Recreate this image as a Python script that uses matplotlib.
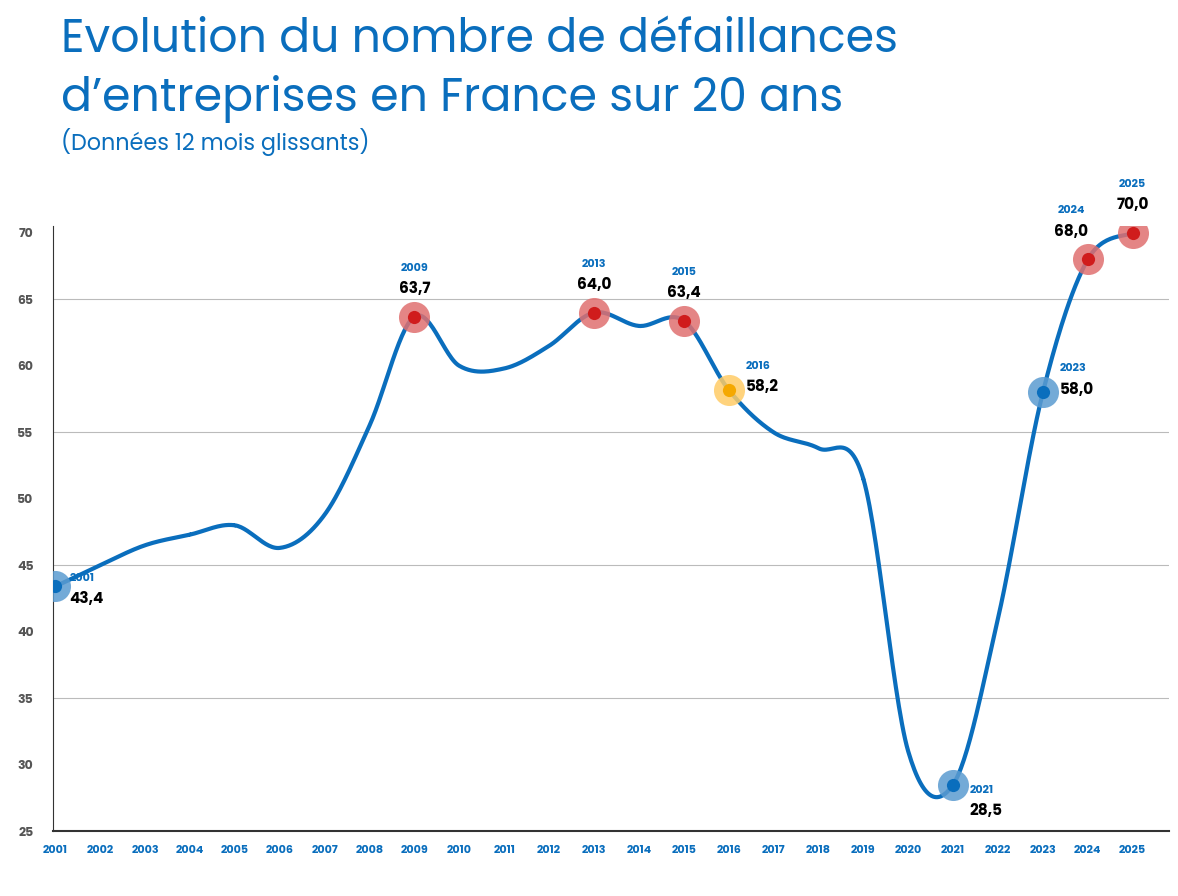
import numpy as np
import matplotlib
matplotlib.use("Agg")
import matplotlib.pyplot as plt

years = list(range(2001, 2026))
values = [43.4, 45.0, 46.5, 47.3, 48.0, 46.3, 48.8, 55.5, 63.7, 60.0, 59.8, 61.5,
          64.0, 63.0, 63.4, 58.2, 55.0, 53.8, 51.5, 31.0, 28.5, 41.0, 58.0, 68.0, 70.0]
blue_pts = [2001, 2021, 2023]
red_pts = [2009, 2013, 2015, 2024, 2025]
orange_pts = [2016]
yticks = [25, 30, 35, 40, 45, 50, 55, 60, 65, 70]
grid_vals = [35, 45, 55, 65]

BLUE = "#0a6ebd"
plt.rcParams['font.family'] = ['Poppins', 'Open Sans', 'DejaVu Sans']

fig = plt.figure(figsize=(11.78, 8.96), dpi=100)
ax = fig.add_axes([0.045, 0.0725, 0.947, 0.675])

x = np.arange(len(years), dtype=float)
y = np.array(values)
xs, ys = [], []
P = np.column_stack([x, y])
P = np.vstack([P[0], P, P[-1]])
for i in range(1, len(P) - 2):
    p0, p1, p2, p3 = P[i-1], P[i], P[i+1], P[i+2]
    t = np.linspace(0, 1, 30)[:, None]
    c = 0.5 * ((2*p1) + (-p0+p2)*t + (2*p0-5*p1+4*p2-p3)*t**2 + (-p0+3*p1-3*p2+p3)*t**3)
    xs.extend(c[:, 0]); ys.extend(c[:, 1])
ax.plot(xs, ys, color=BLUE, lw=3, zorder=3, solid_capstyle='round')

def idx(yr): return years.index(yr)
for pts, outer, inner in [(blue_pts, "#5b9bd0", BLUE), (red_pts, "#e07070", "#d01c1c"),
                          (orange_pts, "#ffcc66", "#f5a800")]:
    for yr in pts:
        i = idx(yr)
        ax.scatter(x[i], y[i], s=500, color=outer, alpha=0.85, zorder=4, lw=0)
        ax.scatter(x[i], y[i], s=90, color=inner, zorder=5, lw=0)

def lab(yr, dx, dy, ha):
    i = idx(yr)
    v = f"{values[i]:.1f}".replace(".", ",")
    ax.annotate(str(yr), (x[i], y[i]), xytext=(dx, dy + 17), textcoords="offset points",
                ha=ha, va="bottom", color=BLUE, fontsize=8, fontweight="bold")
    ax.annotate(v, (x[i], y[i]), xytext=(dx, dy), textcoords="offset points",
                ha=ha, va="bottom", color="black", fontsize=11, fontweight="bold")

for yr in [2009, 2013, 2015, 2025]:
    lab(yr, 0, 14, "center")
lab(2024, -12, 14, "center")
lab(2001, 10, -15, "left")
lab(2016, 12, -4, "left")
lab(2023, 12, -4, "left")
lab(2021, 12, -25, "left")

for g in grid_vals:
    ax.axhline(g, color="#bbbbbb", lw=0.8, zorder=1)

ax.set_xlim(-0.05, len(years) - 0.2)
ax.set_ylim(25, 70.5)
ax.set_yticks(yticks)
ax.set_yticklabels([str(t) for t in yticks], color="#555555", fontsize=9, fontweight="bold")
ax.set_xticks(x)
ax.set_xticklabels([str(v) for v in years], color=BLUE, fontsize=8, fontweight="bold")
ax.tick_params(length=0, pad=10)
ax.tick_params(axis='y', pad=14)
for s in ["top", "right"]:
    ax.spines[s].set_visible(False)
ax.spines["left"].set_color("#333333")
ax.spines["bottom"].set_color("#333333")
ax.spines["bottom"].set_linewidth(1.5)

fig.text(0.052, 0.955, "Evolution du nombre de défaillances", color=BLUE, fontsize=33,
         fontweight="normal", va="center")
fig.text(0.052, 0.89, "d’entreprises en France sur 20 ans", color=BLUE, fontsize=33,
         fontweight="normal", va="center")
fig.text(0.052, 0.842, "(Données 12 mois glissants)", color=BLUE, fontsize=16,
         fontweight="normal", va="center")

fig.savefig("out.png", dpi=100)
